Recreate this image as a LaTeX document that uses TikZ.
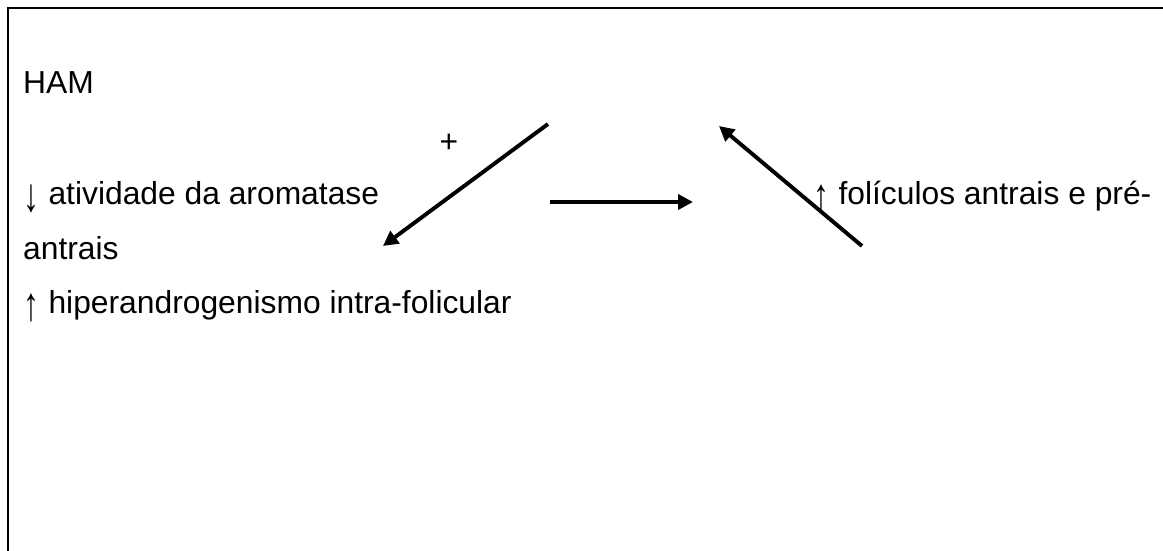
\documentclass[tikz,border=0pt]{standalone}
\usepackage{fontspec}
\usepackage{graphicx}
\setmainfont{Liberation Sans}
\usetikzlibrary{arrows.meta}
% tall, thin arrow glyph: stretched vertically to a fixed height
\newsavebox\arrowglyph
\newcommand\tallarrow[1]{%
  \sbox\arrowglyph{#1}%
  \pgfmathsetmacro\arrowstretch{28/(\the\ht\arrowglyph+\the\dp\arrowglyph)}%
  \makebox[16.5pt][l]{\raisebox{-9pt}{\scalebox{1}[\arrowstretch]{\raisebox{\dp\arrowglyph}{\usebox\arrowglyph}}}}}
\begin{document}
\begin{tikzpicture}[x=1pt,y=-1pt,
  txt/.style={anchor=base west,inner sep=0pt,font=\fontsize{31.8}{38}\selectfont},
  sign/.style={inner sep=0pt,font=\fontsize{31.8}{38}\selectfont},
  flow/.style={line width=3.9pt,-{Triangle[length=15pt,width=15pt]}}]
\useasboundingbox (0,0) rectangle (1163,551);
\begin{scope}
\clip (0,0) rectangle (1163,551);
% page frame, open to the right and bottom
\draw[line width=2.7pt] (8,600) -- (8,8) -- (1200,8);
\end{scope}

% text lines
\node[txt] (ham)   at (23,94)  {HAM};
\node[txt] (arom)  at (23,204) {\tallarrow{↓} atividade da aromatase};
\node[txt] (antr)  at (23,259) {antrais};
\node[txt] (hiper) at (23,313) {\tallarrow{↑} hiperandrogenismo intra-folicular};
\node[txt] (foli)  at (813,204) {\tallarrow{↑} folículos antrais e pré-};
\node[sign] (plus) at (449,143) {+};

% arrow end points
\coordinate (downS)  at (548,124);
\coordinate (downE)  at (383,246);
\coordinate (rightS) at (550,202);
\coordinate (rightE) at (693,202);
\coordinate (upS)    at (862,246);
\coordinate (upE)    at (719,126);

\draw[flow] (downS) -- (downE);
\draw[flow] (rightS) -- (rightE);
\draw[flow] (upS) -- (upE);
\end{tikzpicture}
\end{document}
